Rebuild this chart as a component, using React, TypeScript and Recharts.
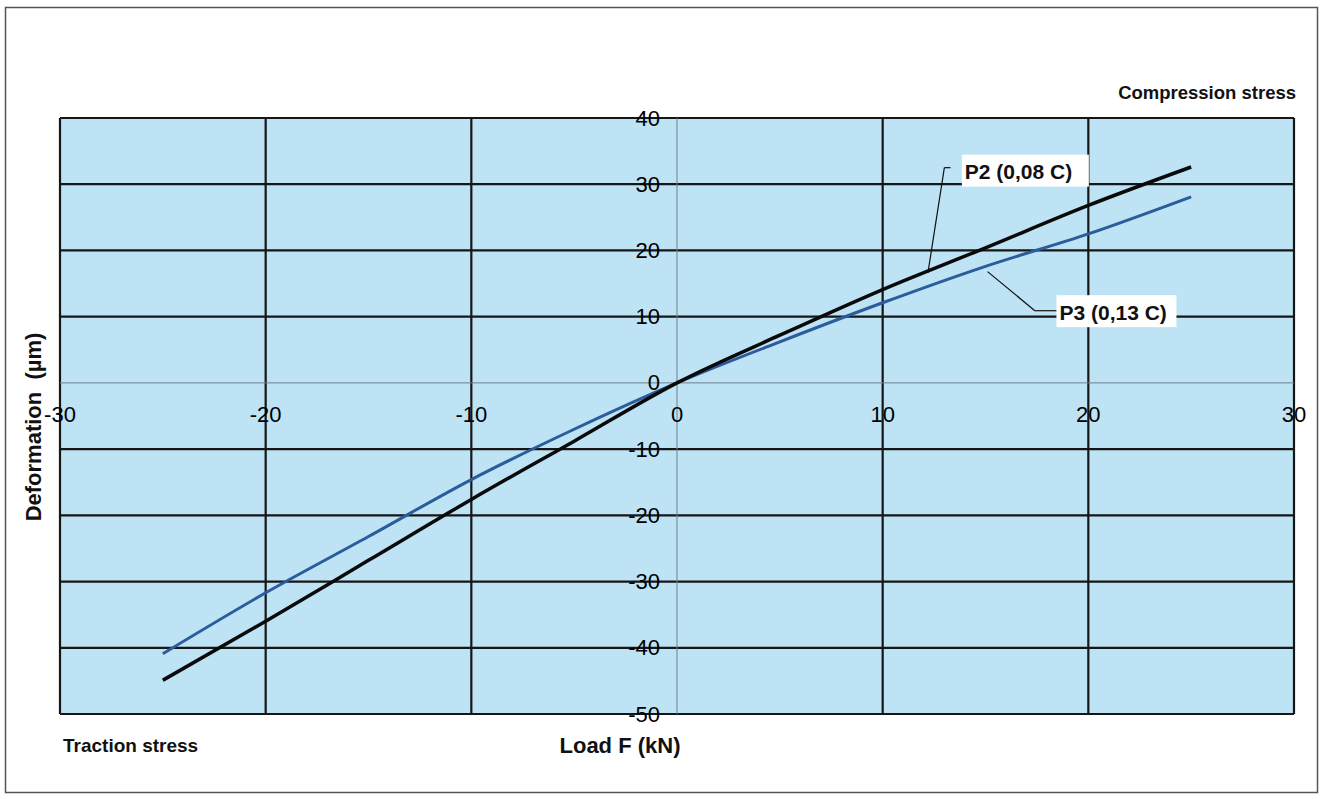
import React from 'react';
import {
  LineChart,
  Line,
  XAxis,
  YAxis,
  ReferenceLine,
  ReferenceArea,
  ReferenceDot,
} from 'recharts';

// ---- data ----
const loadF = [-25, -20, -15, -10, -5, 0, 5, 10, 15, 20, 25];
const p2Deformation = [-44.9, -36.0, -26.8, -17.6, -8.8, 0, 7.2, 14.1, 20.4, 26.8, 32.6];
const p3Deformation = [-40.9, -31.7, -23.2, -14.6, -7.0, 0, 6.2, 12.1, 17.6, 22.5, 28.1];

const xTickValues = [-30, -20, -10, 0, 10, 20, 30];
const yTickValues = [40, 30, 20, 10, 0, -10, -20, -30, -40, -50];
const xGridValues = [-30, -20, -10, 10, 20, 30];
const yGridValues = [40, 30, 20, 10, -10, -20, -30, -40, -50];

const seriesNames = ['P2 (0,08 C)', 'P3 (0,13 C)'];
// label anchors (data coords) : box left-middle
const labelAnchorX = [13.85, 18.45];
const labelAnchorY = [32.05, 10.83];
// leader line polylines (data coords)
const p2LeaderX = [12.2, 13.0, 13.3];
const p2LeaderY = [16.6, 32.5, 32.5];
const p3LeaderX = [15.1, 17.4, 18.5];
const p3LeaderY = [16.8, 10.9, 10.9];

const data = loadF.map((x, i) => ({ x, p2: p2Deformation[i], p3: p3Deformation[i] }));

const FONT = '"Liberation Sans", Arial, Helvetica, sans-serif';
const BG = '#BDE3F5';
const GRID = '#161616';
const ZERO = '#6f7f8a';

const segs = (xs: number[], ys: number[]) =>
  xs.slice(0, -1).map((_, i) => [
    { x: xs[i], y: ys[i] },
    { x: xs[i + 1], y: ys[i + 1] },
  ]);

const XTickLabel = (props: any) => {
  const { cx, cy } = props;
  return (
    <text
      x={cx}
      y={cy + 32}
      textAnchor="middle"
      dominantBaseline="central"
      fontFamily={FONT}
      fontSize={22}
      fill="#000"
    >
      {props.value}
    </text>
  );
};

const YTickLabel = (props: any) => {
  const { cx, cy } = props;
  return (
    <text
      x={cx - 17}
      y={cy}
      textAnchor="end"
      dominantBaseline="central"
      fontFamily={FONT}
      fontSize={22}
      fill="#000"
    >
      {props.value}
    </text>
  );
};

const BoxLabel = (props: any) => {
  const { cx, cy, text, w } = props;
  return (
    <g>
      <rect x={cx} y={cy - 16} width={w} height={32} fill="#ffffff" />
      <text
        x={cx + 3}
        y={cy + 1}
        dominantBaseline="central"
        fontFamily={FONT}
        fontWeight="bold"
        fontSize={21}
        fill="#111"
      >
        {text}
      </text>
    </g>
  );
};

export default function App() {
  const p2Segs = segs(p2LeaderX, p2LeaderY);
  const p3Segs = segs(p3LeaderX, p3LeaderY);
  return (
    <div style={{ position: 'absolute', left: 0, top: 0, width: 1322, height: 799, background: '#fff' }}>
      <LineChart
        width={1322}
        height={799}
        data={data}
        margin={{ top: 118, right: 28, bottom: 85, left: 60 }}
      >
        <XAxis type="number" dataKey="x" domain={[-30, 30]} ticks={xTickValues} hide allowDataOverflow />
        <YAxis type="number" domain={[-50, 40]} ticks={yTickValues} hide allowDataOverflow />
        <ReferenceArea x1={-30} x2={30} y1={-50} y2={40} fill={BG} fillOpacity={1} stroke="none" />
        {xGridValues.map((v) => (
          <ReferenceLine key={'gx' + v} x={v} stroke={GRID} strokeWidth={2.2} />
        ))}
        {yGridValues.map((v) => (
          <ReferenceLine key={'gy' + v} y={v} stroke={GRID} strokeWidth={2.2} />
        ))}
        <ReferenceLine x={0} stroke={ZERO} strokeWidth={1} />
        <ReferenceLine y={0} stroke={ZERO} strokeWidth={1} />
        {xTickValues.map((v) => (
          <ReferenceDot
            key={'tx' + v}
            x={v}
            y={0}
            r={0}
            shape={(p: any) => <XTickLabel {...p} value={v} />}
          />
        ))}
        {yTickValues.map((v) => (
          <ReferenceDot
            key={'ty' + v}
            x={0}
            y={v}
            r={0}
            shape={(p: any) => <YTickLabel {...p} value={v} />}
          />
        ))}
        {p2Segs.map((s, i) => (
          <ReferenceLine key={'l2' + i} segment={s} stroke="#111" strokeWidth={1.2} />
        ))}
        {p3Segs.map((s, i) => (
          <ReferenceLine key={'l3' + i} segment={s} stroke="#111" strokeWidth={1.2} />
        ))}
        {seriesNames.map((name, i) => (
          <ReferenceDot
            key={'lab' + i}
            x={labelAnchorX[i]}
            y={labelAnchorY[i]}
            r={0}
            shape={(p: any) => <BoxLabel {...p} text={name} w={i === 0 ? 127 : 120} />}
          />
        ))}
        <Line
          type="monotone"
          dataKey="p3"
          name={seriesNames[1]}
          stroke="#2B5C9B"
          strokeWidth={3}
          dot={false}
          isAnimationActive={false}
        />
        <Line
          type="monotone"
          dataKey="p2"
          name={seriesNames[0]}
          stroke="#0a0a0a"
          strokeWidth={3.5}
          dot={false}
          isAnimationActive={false}
        />
      </LineChart>
      <svg
        width={1322}
        height={799}
        style={{ position: 'absolute', left: 0, top: 0, pointerEvents: 'none' }}
      >
        <rect x={5.5} y={7.5} width={1312} height={785} fill="none" stroke="#555" strokeWidth={1.5} />
        <text x={1296} y={92} textAnchor="end" dominantBaseline="central" fontFamily={FONT} fontWeight="bold" fontSize={18.5} fill="#111">
          Compression stress
        </text>
        <text x={63} y={745} dominantBaseline="central" fontFamily={FONT} fontWeight="bold" fontSize={19} fill="#111">
          Traction stress
        </text>
        <text x={620} y={745} textAnchor="middle" dominantBaseline="central" fontFamily={FONT} fontWeight="bold" fontSize={22} fill="#111">
          Load F (kN)
        </text>
        <text
          x={0}
          y={0}
          transform="translate(33,427) rotate(-90)"
          textAnchor="middle"
          dominantBaseline="central"
          fontFamily={FONT}
          fontWeight="bold"
          fontSize={22}
          fill="#111"
        >
          {'Deformation\u00A0\u00A0(µm)'}
        </text>
      </svg>
    </div>
  );
}
